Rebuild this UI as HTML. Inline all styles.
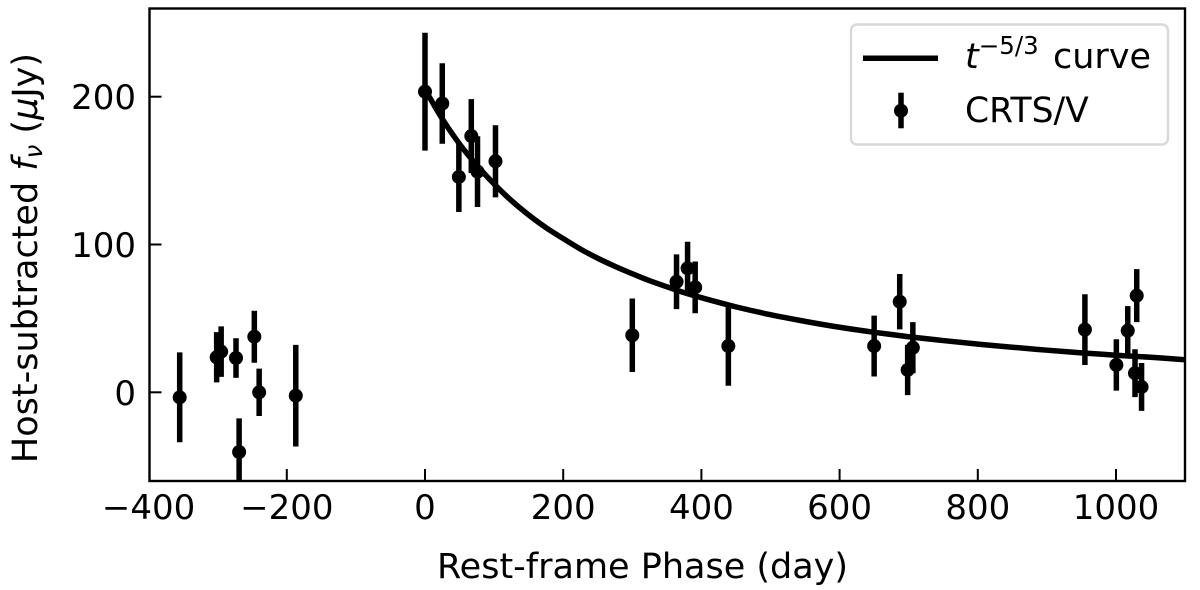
<!DOCTYPE html>
<html lang="en">
<head>
<meta charset="utf-8">
<title>Host-subtracted flux light curve</title>
<style>
html,body{margin:0;padding:0;background:#fff;width:1200px;height:590px;overflow:hidden}
svg{display:block}
text{font-family:"DejaVu Sans","Liberation Sans",sans-serif;fill:#000}
</style>
</head>
<body>
<svg id="chart" xmlns="http://www.w3.org/2000/svg" width="1200" height="590" viewBox="0 0 1200 590">
  <defs><clipPath id="plot-clip"><rect x="149" y="8.5" width="1036" height="472.5"/></clipPath></defs>
  <rect x="0" y="0" width="1200" height="590" fill="#fff"/>
  <g id="curve-layer" clip-path="url(#plot-clip)"></g>
  <g id="points-layer" clip-path="url(#plot-clip)"></g>
  <g id="x-ticks"></g>
  <g id="y-ticks"></g>
  <rect x="149.5" y="8.5" width="1035.5" height="472.5" fill="none" stroke="#000" stroke-width="2.4"/>
  <text x="642.5" y="578" font-size="35" text-anchor="middle">Rest-frame Phase (day)</text>
  <text transform="translate(37,258) rotate(-90)" font-size="35" text-anchor="middle">Host-subtracted <tspan font-style="italic">f</tspan><tspan font-style="italic" font-size="24.5" dy="5">ν</tspan><tspan dy="-5"> (</tspan><tspan font-style="italic">μ</tspan>Jy)</text>
  <g>
    <rect x="851" y="24.5" width="317" height="120" rx="6" ry="6" fill="#fff" fill-opacity="0.8" stroke="#d9d9d9" stroke-width="2.4"/>
    <line x1="863" y1="58.3" x2="938" y2="58.3" stroke="#000" stroke-width="5.5"/>
    <text x="965" y="68" font-size="35"><tspan font-style="italic">t</tspan><tspan font-size="24.5" dy="-14">−5/3</tspan><tspan dy="14" x="1053">curve</tspan></text>
    <line x1="901" y1="92.7" x2="901" y2="128.3" stroke="#000" stroke-width="5.5"/>
    <circle cx="901" cy="110.7" r="7" fill="#000"/>
    <text x="965" y="122" font-size="34.5">CRTS/V</text>
  </g>
</svg>
<script>
const phase = [-355, -301.5, -295, -273.5, -247, -240, -269, -187, 0, 25, 49, 67, 76, 102, 300, 364, 380, 391, 439, 650, 687, 698.5, 706, 955, 1000.5, 1017, 1027.5, 1030, 1037];
const flux = [-3.4, 23.7, 27.5, 23.2, 37.6, 0, -40.4, -2.3, 203.4, 195.4, 145.7, 173.4, 149.3, 156.3, 38.6, 74.8, 83.9, 71, 31.3, 31.3, 61.3, 15.1, 30.2, 42.4, 18.5, 41.7, 12.9, 65.4, 3.6];
const fluxErr = [30.4, 17, 17.1, 13.4, 17.6, 16, 22.8, 34.4, 39.9, 27.2, 23.7, 25, 23.9, 24.4, 24.9, 18.5, 18, 17.5, 26.9, 20.6, 18.7, 17, 17.3, 23.9, 17.4, 16.6, 16.2, 17.9, 16.2];
const curvePhase = [0, 25, 50, 75, 100, 125, 150, 175, 200, 225, 250, 275, 300, 325, 350, 375, 400, 450, 500, 550, 600, 650, 700, 750, 800, 850, 900, 950, 1000, 1050, 1100];
const curveFlux = [205, 185, 168, 153.6, 141, 129.7, 120, 111.4, 104, 96.9, 90.7, 85.2, 80.2, 75.5, 71.4, 67.4, 64, 57.8, 52.5, 48, 44, 40.6, 37.6, 35, 32.6, 30.5, 28.5, 26.7, 25.1, 23.7, 22];
const xTickValues = [-400, -200, 0, 200, 400, 600, 800, 1000];
const yTickValues = [0, 100, 200];

const NS = 'http://www.w3.org/2000/svg';
function xScale(v) { return 425 + 0.691 * v; }
function yScale(v) { return 392.3 - 1.478 * v; }
function make(tag, attrs, parent) {
  const el = document.createElementNS(NS, tag);
  for (const k in attrs) el.setAttribute(k, attrs[k]);
  parent.appendChild(el);
  return el;
}
function tickText(v) { return v < 0 ? '\u2212' + Math.abs(v) : String(v); }
function smoothPath(pts) {
  let d = 'M' + pts[0][0].toFixed(2) + ' ' + pts[0][1].toFixed(2);
  for (let i = 0; i < pts.length - 1; i++) {
    const a = pts[Math.max(i - 1, 0)], b = pts[i], c = pts[i + 1], e = pts[Math.min(i + 2, pts.length - 1)];
    const c1x = b[0] + (c[0] - a[0]) / 6, c1y = b[1] + (c[1] - a[1]) / 6;
    const c2x = c[0] - (e[0] - b[0]) / 6, c2y = c[1] - (e[1] - b[1]) / 6;
    d += 'C' + c1x.toFixed(2) + ' ' + c1y.toFixed(2) + ' ' + c2x.toFixed(2) + ' ' + c2y.toFixed(2) + ' ' + c[0].toFixed(2) + ' ' + c[1].toFixed(2);
  }
  return d;
}

const curveLayer = document.getElementById('curve-layer');
const curvePts = curvePhase.map((p, i) => [xScale(p), yScale(curveFlux[i])]);
const curveLine = make('path', { d: smoothPath(curvePts), fill: 'none', stroke: '#000', 'stroke-width': 5.5, 'stroke-linejoin': 'round' }, curveLayer);



const pointsLayer = document.getElementById('points-layer');
phase.forEach((p, i) => {
  const bar = make('line', { x1: xScale(p), x2: xScale(p), y1: yScale(flux[i] + fluxErr[i]), y2: yScale(flux[i] - fluxErr[i]), stroke: '#000', 'stroke-width': 5.5 }, pointsLayer);
  
  
  const dot = make('circle', { cx: xScale(p), cy: yScale(flux[i]), r: 7, fill: '#000' }, pointsLayer);
  
  
});

const xTicks = document.getElementById('x-ticks');
xTickValues.forEach(v => {
  const x = Math.max(xScale(v), 149.5);
  const mark = make('line', { x1: x, x2: x, y1: 481, y2: 469, stroke: '#000', 'stroke-width': 2 }, xTicks);
  
  
  const label = make('text', { x: xScale(v), y: 519, 'font-size': 34, 'text-anchor': 'middle' }, xTicks);
  label.textContent = tickText(v);
  
  
});

const yTicks = document.getElementById('y-ticks');
yTickValues.forEach(v => {
  const y = yScale(v);
  const mark = make('line', { x1: 149.5, x2: 161.5, y1: y, y2: y, stroke: '#000', 'stroke-width': 2 }, yTicks);
  
  
  const label = make('text', { x: 136, y: y + 12.5, 'font-size': 34, 'text-anchor': 'end' }, yTicks);
  label.textContent = tickText(v);
  
  
});
</script>
</body>
</html>
